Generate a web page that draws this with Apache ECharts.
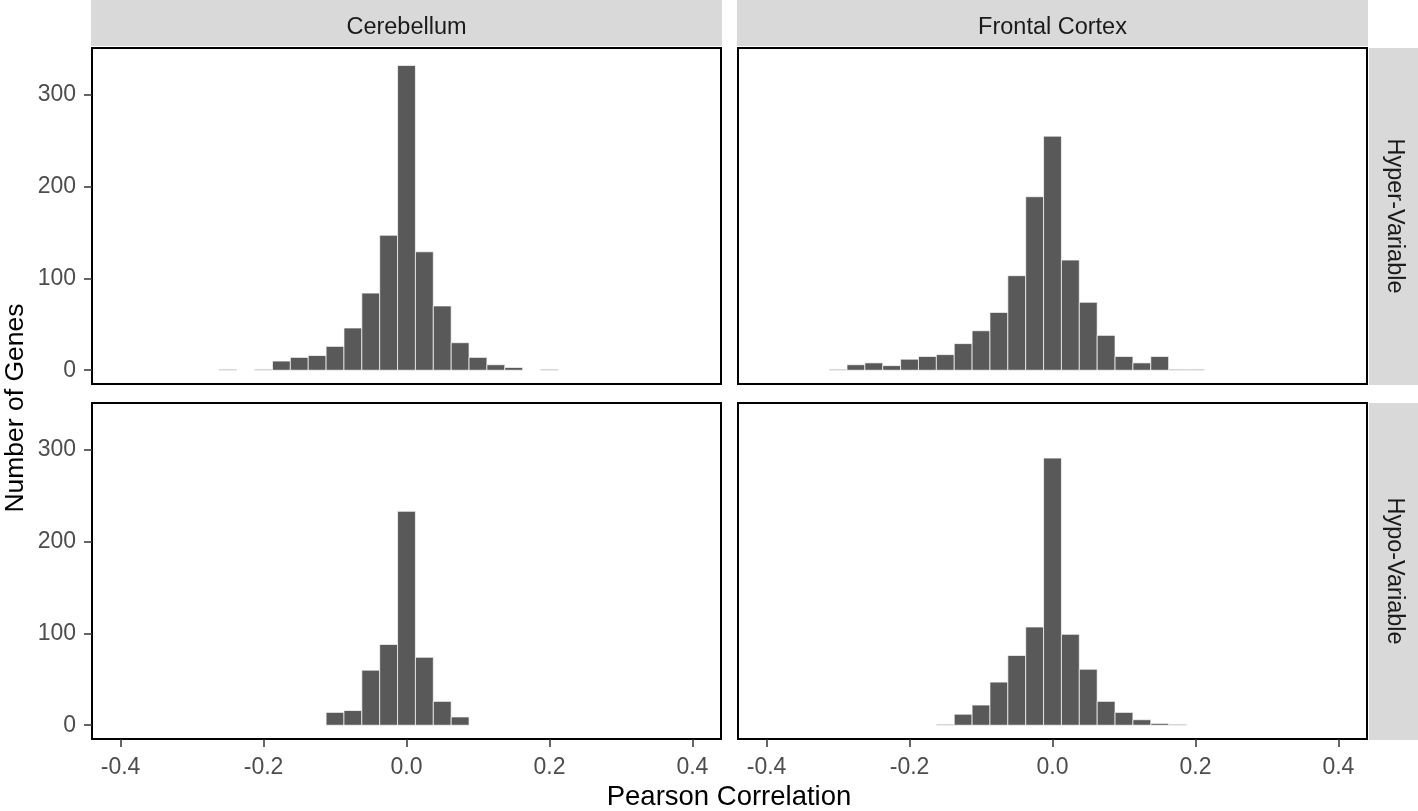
<!DOCTYPE html>
<html>
<head>
<meta charset="utf-8">
<script src="https://cdn.jsdelivr.net/npm/echarts@6/dist/echarts.min.js"></script>
<style>html,body{margin:0;padding:0;background:#fff}#c{width:1418px;height:811px}</style>
</head>
<body>
<div id="c"></div>
<script>
// ---- data ----
const bins = [-0.300,-0.275,-0.250,-0.225,-0.200,-0.175,-0.150,-0.125,-0.100,-0.075,-0.050,-0.025,0.000,0.025,0.050,0.075,0.100,0.125,0.150,0.175,0.200];
const cerebellumHyper = [0,0,1,0,1,10,14,16,26,46,84,147,332,129,70,30,14,6,3,0,1];
const frontalHyper    = [1,6,8,5,12,15,17,29,43,63,103,189,255,120,74,38,15,8,15,1,1];
const cerebellumHypo  = [0,0,0,0,0,0,0,0,14,16,60,88,233,74,26,9,0,0,0,0,0];
const frontalHypo     = [0,0,0,0,0,0,1,12,22,47,76,107,291,99,61,26,14,6,2,1,0];
const colLabels = ['Cerebellum','Frontal Cortex'];
const rowLabels = ['Hyper-Variable','Hypo-Variable'];
const xTicks = [-0.4,-0.2,0.0,0.2,0.4];
const yTicks = [0,100,200,300];
const xTitle = 'Pearson Correlation';
const yTitle = 'Number of Genes';

// ---- layout ----
const FONT = 'Liberation Sans, Arial, sans-serif';
const binWidth = bins[1]-bins[0];
const panels = [
  {row:0,col:0,data:cerebellumHyper},
  {row:0,col:1,data:frontalHyper},
  {row:1,col:0,data:cerebellumHypo},
  {row:1,col:1,data:frontalHypo}
];
const colX = [92, 738], panelW = 629;
const rowY = [48, 403], panelH = 336;

const grids=[], xAxes=[], yAxes=[], series=[];
panels.forEach((p,i)=>{
  grids.push({left:colX[p.col], top:rowY[p.row], width:panelW, height:panelH,
    show:true, borderColor:'#000', borderWidth:2, backgroundColor:'#fff', containLabel:false});
  xAxes.push({type:'value', gridIndex:i, min:-0.44, max:0.44, position:'bottom',
    axisLine:{show:false, onZero:false}, splitLine:{show:false},
    axisTick:{show:p.row===1, inside:false, customValues:xTicks, length:8, lineStyle:{color:'#333',width:1.5}},
    axisLabel:{show:p.row===1, customValues:xTicks, formatter:v=>v.toFixed(1), color:'#4D4D4D',
      fontFamily:FONT, fontSize:23, margin:17}});
  yAxes.push({type:'value', gridIndex:i, min:-15, max:351, position:'left',
    axisLine:{show:false, onZero:false}, splitLine:{show:false},
    axisTick:{show:p.col===0, inside:false, customValues:yTicks, length:8, lineStyle:{color:'#333',width:1.5}},
    axisLabel:{show:p.col===0, customValues:yTicks, color:'#4D4D4D', fontFamily:FONT, fontSize:23, margin:16}});
  series.push({type:'custom', xAxisIndex:i, yAxisIndex:i,
    data: bins.map((b,k)=>[b,p.data[k]]),
    renderItem:(params,api)=>{
      const x=api.value(0), y=api.value(1);
      if(!y) return null;
      const a=api.coord([x-binWidth/2,y]);
      const b=api.coord([x+binWidth/2,0]);
      return {type:'rect', shape:{x:a[0], y:a[1], width:b[0]-a[0], height:b[1]-a[1]},
        style:{fill:'#595959', stroke:'#ffffff', lineWidth:0.7}};
    }});
});

const graphics=[];
colLabels.forEach((t,c)=>{
  graphics.push({type:'rect', left:colX[c]-1, top:0, shape:{width:panelW+2, height:46}, style:{fill:'#D9D9D9'}, z:1});
  graphics.push({type:'text', x:colX[c]+panelW/2, y:28, style:{text:t, fill:'#1A1A1A', font:'23.5px '+FONT, align:'center', verticalAlign:'middle'}, z:2});
});
rowLabels.forEach((t,r)=>{
  graphics.push({type:'rect', left:1369, top:rowY[r], shape:{width:49, height:panelH+1}, style:{fill:'#D9D9D9'}, z:1});
  graphics.push({type:'text', x:1394, y:rowY[r]+panelH/2, rotation:-Math.PI/2, style:{text:t, fill:'#1A1A1A', font:'23.5px '+FONT, align:'center', verticalAlign:'middle'}, z:2});
});
graphics.push({type:'text', x:729, y:797, style:{text:xTitle, fill:'#000', font:'27.5px '+FONT, align:'center', verticalAlign:'middle'}});
graphics.push({type:'text', x:16, y:408, rotation:Math.PI/2, style:{text:yTitle, fill:'#000', font:'26.5px '+FONT, align:'center', verticalAlign:'middle'}});

const chart = echarts.init(document.getElementById('c'), null, {renderer:'canvas'});
chart.setOption({animation:false, backgroundColor:'#fff', grid:grids, xAxis:xAxes, yAxis:yAxes, series:series, graphic:graphics});
</script>
</body>
</html>
